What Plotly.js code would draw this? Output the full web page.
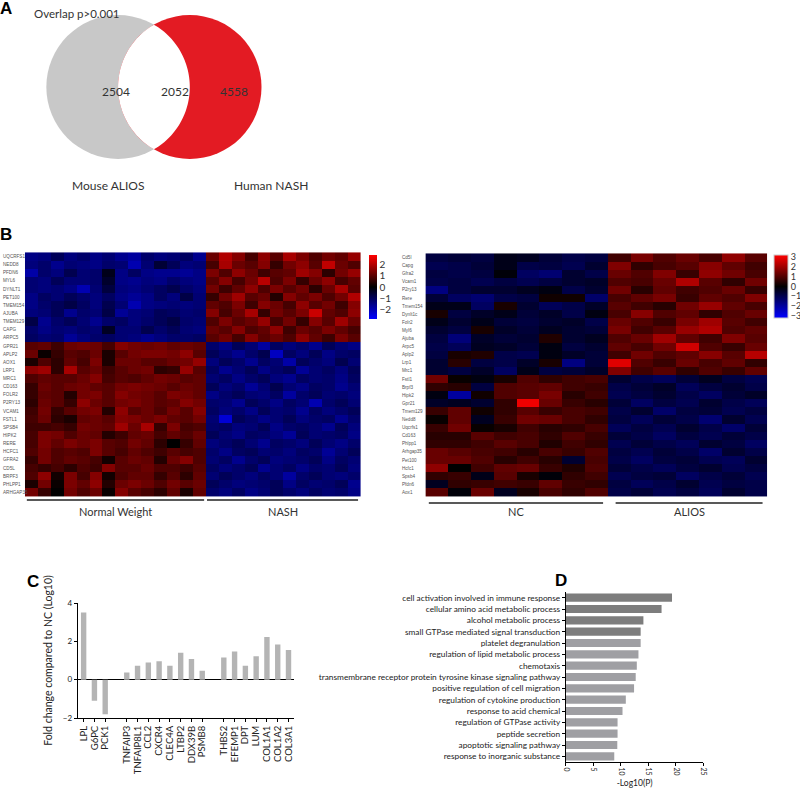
<!DOCTYPE html>
<html><head><meta charset="utf-8">
<script src="https://cdn.plot.ly/plotly-3.0.1.min.js"></script>
<style>html,body{margin:0;padding:0;background:#fff}#chart{width:800px;height:788px}</style>
</head><body><div id="chart"></div>
<script>
// ---------------- DATA ----------------
// Panel A (Venn)
const vennSetNames = ['Mouse ALIOS', 'Human NASH'];
const vennOnlyCounts = [2504, 4558];
const vennOverlapCount = 2052;
const vennTitle = 'Overlap p>0.001';

// Panel B left heatmap (human)
const leftGenes = ['UQCRFS1','NEDD8','PFDN6','MYL6','DYNLT1','PET100','TMEM154','AJUBA','TMEM129','CAPG','ARPC5',
  'GPR21','APLP2','AOX1','LRP1','MRC1','CD163','FOLR2','P2RY13','VCAM1','FSTL1','SPSB4','HIPK2','RERE','HCFC1',
  'GFRA2','CD5L','BRPF3','PHLPP1','ARHGAP35'];
const leftGroups = ['Normal Weight', 'NASH'];
const leftGroupSizes = [14, 12];
const leftZ = [
 [-1.5,-1.4,-1.0,-1.4,-1.2,-1.5,-1.3,-1.6,-1.8,-1.2,-1.4,-1.3,-1.1,-1.6, 1.2,2.0,1.5,0.8,1.6,1.0,1.9,1.4,0.9,1.3,1.1,1.7],
 [-1.4,-1.2,-1.6,-1.3,-1.4,-1.5,-1.2,-1.3,-2.0,-1.3,-0.6,-1.0,-1.4,-1.3, 0.8,1.9,1.2,1.0,1.5,0.6,1.3,1.6,1.0,2.2,1.2,0.9],
 [-1.9,-1.2,-1.4,-0.9,-1.3,-1.2,-0.3,-1.5,-1.1,-1.5,-1.6,-1.6,-1.7,-1.5, 1.4,0.9,1.6,1.2,0.7,1.0,1.1,1.8,1.5,0.5,1.3,1.7],
 [-1.3,-1.4,-1.0,-1.3,-1.3,-1.2,-0.5,-1.5,-1.6,-1.4,-1.5,-1.2,-1.4,-1.5, 1.0,1.5,0.8,1.3,2.1,0.9,1.4,0.6,1.2,1.6,0.8,1.1],
 [-1.3,-1.4,-1.3,-1.5,-2.0,-1.3,-0.7,-1.4,-1.5,-1.3,-1.1,-0.9,-1.2,-1.4, 1.3,0.7,1.1,1.6,0.9,1.4,1.0,1.3,0.5,1.2,1.9,1.0],
 [-1.5,-1.1,-1.3,-1.0,-1.2,-1.4,-1.1,-1.5,-1.7,-1.5,-1.1,-1.4,-0.8,-1.3, 0.6,1.3,1.8,1.0,1.2,0.4,1.5,1.1,1.4,0.9,1.3,2.0],
 [-1.5,-1.2,-1.0,-0.8,-1.1,-1.4,-0.9,-1.3,-2.0,-1.5,-1.4,-1.3,-1.4,-1.3, 1.1,0.9,1.4,0.7,1.5,1.2,0.8,1.6,1.0,1.3,0.7,1.5],
 [-1.4,-1.3,-1.0,-1.6,-1.2,-1.3,-0.8,-1.7,-1.4,-1.3,-1.0,-1.1,-1.3,-1.2, 1.5,0.8,1.2,1.9,0.6,1.3,1.0,1.4,2.3,1.1,0.9,1.6],
 [-0.8,-1.6,-1.2,-1.0,-1.3,-1.6,-1.2,-1.1,-1.4,-1.2,-1.0,-0.8,-1.2,-1.3, 0.9,1.4,1.0,1.2,1.7,0.8,1.3,0.6,1.5,1.0,1.8,1.2],
 [-1.2,-1.5,-1.3,-1.4,-1.2,-1.3,-0.4,-1.3,-1.3,-0.9,-1.2,-1.0,-1.3,-1.4, 1.2,1.0,1.5,0.9,1.1,1.6,0.7,1.2,1.0,1.4,1.1,0.8],
 [-1.1,-1.3,-1.2,-1.7,-1.4,-1.2,-1.1,-1.3,-1.4,-1.6,-1.4,-1.2,-1.2,-1.1, 1.0,1.3,0.8,1.5,1.0,1.2,0.9,1.6,1.1,0.7,1.4,1.0],
 [1.0,1.1,0.7,1.2,1.3,1.2,0.8,1.5,1.3,1.2,1.3,1.1,1.2,1.1, -1.2,-1.5,-1.0,-1.3,-1.8,-1.1,-1.4,-1.2,-1.6,-1.0,-1.3,-1.5],
 [1.2,0.1,0.6,1.0,0.9,1.2,0.3,1.0,1.3,1.4,1.4,1.3,1.6,1.0, -1.0,-1.3,-1.6,-1.2,-0.9,-2.2,-1.1,-1.4,-1.0,-1.5,-1.2,-1.1],
 [0.3,0.9,0.5,1.1,0.8,1.4,0.3,1.2,1.2,1.0,1.0,1.2,1.3,1.7, -1.4,-1.0,-1.2,-1.6,-1.1,-1.3,-1.9,-1.0,-1.2,-1.4,-0.9,-1.3],
 [1.6,1.8,0.5,1.9,1.0,1.2,0.7,1.0,1.2,1.3,0.5,0.6,1.7,1.0, -1.1,-1.6,-1.3,-1.0,-1.5,-1.2,-1.0,-1.7,-1.3,-1.1,-1.4,-1.0],
 [0.9,1.1,1.0,1.0,1.2,1.5,0.8,1.0,0.9,1.1,1.3,1.2,1.0,1.1, -1.3,-1.1,-1.5,-1.2,-1.0,-1.4,-1.6,-1.1,-1.3,-1.2,-1.5,-1.1],
 [0.6,1.2,1.0,1.2,1.3,1.1,1.0,1.3,1.4,1.3,1.2,1.0,1.2,1.1, -1.0,-1.4,-1.2,-1.7,-1.3,-0.9,-1.3,-1.5,-1.1,-1.2,-1.6,-1.3],
 [0.6,1.1,1.0,0.4,1.3,1.4,1.0,1.5,1.3,1.2,1.0,1.4,1.3,1.1, -1.5,-1.2,-1.0,-1.3,-1.4,-1.1,-1.8,-1.2,-1.0,-1.3,-1.2,-1.4],
 [0.5,1.2,1.0,0.6,1.6,1.2,1.0,1.3,1.4,1.2,1.0,1.1,1.5,1.3, -1.2,-1.3,-1.6,-1.0,-1.2,-1.5,-1.1,-1.3,-2.0,-1.2,-1.0,-1.3],
 [0.7,1.3,0.6,1.0,1.3,1.4,0.4,1.6,1.0,1.2,0.9,1.3,1.0,1.5, -1.1,-1.4,-1.2,-1.5,-1.0,-1.3,-1.2,-1.6,-1.1,-1.4,-1.2,-1.0],
 [0.8,1.2,0.5,0.3,1.1,1.2,1.0,1.5,1.4,1.2,1.4,1.1,1.0,1.3, -1.3,-2.4,-1.0,-1.2,-1.5,-1.3,-1.0,-1.4,-1.2,-1.1,-1.6,-1.2],
 [0.7,0.7,0.8,0.6,1.3,1.2,1.1,1.8,1.2,1.9,0.6,1.4,0.8,0.9, -1.2,-1.1,-1.4,-1.3,-1.0,-1.5,-1.2,-1.1,-1.3,-1.6,-1.0,-1.4],
 [0.8,1.4,1.3,0.9,1.2,1.1,0.4,0.7,1.1,1.2,0.8,1.1,0.9,1.2, -1.0,-1.3,-1.5,-1.1,-1.2,-1.4,-1.7,-1.0,-1.3,-1.2,-1.1,-1.5],
 [0.8,1.4,1.1,1.4,1.2,1.4,1.0,0.9,1.3,1.1,0.5,0.0,0.6,1.1, -1.4,-1.2,-1.0,-1.3,-1.6,-1.1,-1.2,-1.4,-1.0,-1.3,-1.5,-1.2],
 [0.9,1.3,0.9,1.0,0.9,1.4,1.0,0.8,1.1,0.9,0.7,1.0,0.8,0.9, -1.2,-1.5,-1.1,-1.0,-1.3,-1.2,-1.4,-1.1,-1.2,-1.7,-1.3,-1.0],
 [0.6,1.3,0.9,1.1,1.0,0.8,0.2,1.0,1.2,1.1,0.4,1.2,1.5,0.9, -1.3,-1.1,-1.6,-1.2,-1.0,-1.4,-1.3,-1.2,-1.0,-1.5,-1.1,-1.3],
 [0.8,0.6,0.8,0.5,0.9,0.7,1.5,1.0,1.0,1.2,0.9,0.9,0.7,1.0, -1.1,-1.4,-1.2,-1.0,-1.6,-1.3,-1.1,-1.5,-1.2,-1.3,-1.0,-1.4],
 [0.9,1.6,0.2,1.4,0.8,1.5,0.2,0.9,1.1,1.1,0.6,1.0,0.5,1.1, -1.3,-1.0,-1.2,-1.4,-1.1,-1.3,-1.8,-1.2,-1.0,-1.3,-1.4,-1.2],
 [0.3,1.3,0.1,1.4,1.1,1.6,0.4,1.2,1.4,1.2,0.9,1.3,1.0,1.2, -1.0,-1.2,-1.4,-1.3,-1.2,-1.0,-1.5,-1.1,-1.3,-1.2,-1.0,-1.6],
 [1.3,0.6,0.0,1.3,0.9,1.2,0.1,1.5,1.0,0.8,0.5,1.1,0.3,1.1, -1.2,-1.4,-1.1,-1.5,-1.3,-1.0,-1.2,-1.4,-1.1,-1.3,-1.2,-1.5]
];

// Panel B right heatmap (mouse)
const rightGenes = ['Cd5l','Capg','Gfra2','Vcam1','P2ry13','Rere','Tmem154','Dynlt1c','Folr2','Myl6','Ajuba','Arpc5','Aplp2','Lrp1','Mrc1',
  'Fstl1','Brpf3','Hipk2','Gpr21','Tmem129','Nedd8','Uqcrfs1','Cd163','Phlpp1','Arhgap35','Pet100','Hcfc1','Spsb4','Pfdn6','Aox1'];
const rightGroups = ['NC', 'ALIOS'];
const rightGroupSizes = [8, 7];
const rightZ = [
 [-0.8,-0.7,-0.8,-0.3,-0.4,-0.7,-0.9,-0.8, 0.8,1.5,1.0,1.3,0.9,1.8,1.1],
 [-1.0,-0.9,-0.7,-0.3,-0.9,-0.8,-1.0,-0.6, 1.6,0.6,0.9,1.1,1.7,1.2,0.8],
 [-0.8,-0.9,-0.8,-0.1,-1.2,-1.4,-0.6,-0.9, 1.3,1.0,1.6,0.7,1.8,1.4,0.9],
 [-0.9,-0.8,-1.0,-0.8,-1.0,-0.8,-0.6,-0.5, 1.0,0.9,1.3,2.2,1.1,0.6,1.4],
 [-1.6,-0.8,-0.6,-0.6,-0.4,-0.2,-0.9,-0.6, 1.4,0.5,1.2,0.8,1.0,1.3,0.7],
 [-0.7,-1.2,-1.4,-0.9,-0.8,0.2,0.2,-1.3, 0.9,1.2,1.5,0.7,1.2,1.0,1.6],
 [-0.3,-0.3,-1.2,0.3,-0.6,-1.1,-0.9,-0.5, 1.1,0.8,0.5,1.4,1.9,1.2,0.9],
 [0.3,-0.8,-0.5,-0.3,-0.7,-0.5,-0.9,-0.2, 0.9,1.7,1.0,1.2,0.6,1.0,1.3],
 [-0.3,-0.6,-0.3,-0.7,-0.8,-0.6,-0.5,-0.9, 1.3,1.0,0.7,1.5,2.0,1.1,0.8],
 [-0.6,-0.8,0.3,-0.5,-0.7,-0.4,-0.6,-0.7, 1.5,0.8,1.1,1.9,2.2,1.0,1.2],
 [-0.8,-1.5,-0.5,-0.7,-0.6,0.4,-0.6,-0.4, 1.0,1.3,2.0,1.2,0.8,1.6,1.1],
 [-0.9,-1.1,-0.4,-0.5,-0.7,-0.2,-0.8,-0.6, 1.2,0.9,1.4,2.6,1.0,0.7,1.3],
 [-0.8,0.3,0.4,-0.9,-1.0,-0.2,-0.5,-0.7, 0.8,1.4,1.0,1.2,1.7,1.1,2.3],
 [-0.6,0.5,-0.8,-0.9,-0.5,0.3,-1.6,-0.7, 2.8,1.0,0.7,1.3,0.9,1.2,0.6],
 [-0.6,-0.8,-0.5,-1.2,-0.3,-0.8,-0.7,-0.5, 1.6,0.8,1.1,0.6,1.0,0.7,1.2],
 [1.4,0.1,-0.2,0.3,1.0,0.6,0.8,0.9, -0.6,-0.9,-1.1,-0.7,-0.4,-0.8,-1.0],
 [0.6,0.5,-0.8,1.0,1.1,1.2,0.8,0.7, -0.9,-0.7,-0.5,-1.1,-0.8,-0.6,-0.9],
 [-0.2,-2.0,0.2,1.0,1.1,1.5,0.5,0.8, -1.0,-0.8,-0.6,-0.9,-1.2,-0.7,-0.5],
 [-0.5,-0.4,-0.6,0.6,3.0,1.3,0.7,0.5, -0.7,-1.2,-0.8,-1.0,-0.6,-0.9,-1.1],
 [0.7,1.2,0.2,0.6,1.1,0.7,0.9,0.8, -0.9,-0.6,-1.3,-0.8,-0.7,-1.0,-0.8],
 [0.1,1.2,-0.4,0.7,1.4,1.3,0.9,0.6, -0.8,-1.1,-0.7,-0.9,-1.4,-0.6,-1.0],
 [0.7,1.4,0.1,0.3,0.8,0.5,0.6,0.9, -1.1,-0.8,-1.0,-0.6,-0.9,-1.3,-0.7],
 [0.5,0.5,1.1,0.8,0.9,0.6,1.0,0.7, -0.7,-0.9,-1.2,-0.8,-1.0,-0.7,-0.9],
 [0.6,0.6,0.8,1.1,0.9,0.4,0.8,0.6, -1.0,-0.7,-0.9,-1.1,-0.6,-0.8,-1.2],
 [1.3,1.1,0.9,0.8,0.5,0.9,0.7,1.0, -0.8,-1.0,-0.7,-0.9,-1.3,-0.6,-0.9],
 [1.3,1.3,1.0,0.5,0.8,0.5,-0.6,0.9, -0.9,-1.2,-0.8,-0.7,-1.0,-1.1,-0.6],
 [1.8,0.0,0.8,1.2,1.3,0.7,0.4,1.0, -0.7,-0.9,-1.1,-0.8,-0.6,-1.0,-0.8],
 [0.6,0.7,-0.3,1.1,0.3,-0.1,0.6,0.8, -1.0,-0.8,-0.7,-1.2,-0.9,-0.7,-1.0],
 [-0.4,0.6,0.7,0.8,0.7,1.2,0.7,0.6, -0.8,-1.1,-0.9,-0.6,-1.0,-0.8,-0.9],
 [1.1,-0.1,1.3,-0.4,0.3,0.9,0.6,1.0, -0.9,-0.7,-1.0,-0.8,-1.1,-0.6,-0.9]
];

// Panel C (fold change, log10) in three gene groups
const cGroupGenes = [
  ['LPL','G6PC','PCK1'],
  ['TNFAIP3','TNFAIP8L1','CCL2','CXCR4','CLEC4A','LTBP2','DDX39B','PSMB8'],
  ['THBS2','EFEMP1','DPT','LUM','COL1A1','COL1A2','COL3A1']
];
const cGroupValues = [
  [3.5, -1.1, -1.8],
  [0.38, 0.72, 0.9, 0.96, 0.73, 1.4, 1.08, 0.47],
  [1.15, 1.47, 0.73, 1.22, 2.23, 1.83, 1.55]
];
const cYTitle = 'Fold change compared to NC (Log10)';

// Panel D (GO terms, -log10 P)
const dTerms = ['cell activation involved in immune response','cellular amino acid metabolic process','alcohol metabolic process',
  'small GTPase mediated signal transduction','platelet degranulation','regulation of lipid metabolic process','chemotaxis',
  'transmembrane receptor protein tyrosine kinase signaling pathway','positive regulation of cell migration',
  'regulation of cytokine production','response to acid chemical','regulation of GTPase activity','peptide secretion',
  'apoptotic signaling pathway','response to inorganic substance'];
const dValues = [19.3, 17.4, 14.1, 13.6, 13.6, 13.2, 12.9, 12.7, 12.4, 10.9, 10.3, 9.4, 9.4, 9.35, 8.8];
const dHighlighted = 4;
const dXTitle = '-Log10(P)';

// ---------------- LAYOUT HELPERS ----------------
const W = 800, H = 788;
const px = x => x / W;
const py = y => 1 - y / H;
const FONT = 'Lato, "Liberation Sans", sans-serif';
const TXT = '#333333';

const traces = [];
const shapes = [];
const annotations = [];

// ---- Panel A: Venn ----
const vc = {cy: 87, r: 72, lx: 118.5, rx: 190.5};
shapes.push({type:'circle', xref:'paper', yref:'paper', x0:px(vc.lx-vc.r), x1:px(vc.lx+vc.r), y0:py(vc.cy+vc.r), y1:py(vc.cy-vc.r), fillcolor:'#c8c8c8', line:{width:0}});
shapes.push({type:'circle', xref:'paper', yref:'paper', x0:px(vc.rx-vc.r), x1:px(vc.rx+vc.r), y0:py(vc.cy+vc.r), y1:py(vc.cy-vc.r), fillcolor:'#e31b23', line:{width:0}});
(function(){
  const d = vc.rx - vc.lx, a = Math.acos((d/2)/vc.r);
  const pts = [];
  const N = 60;
  for (let i=0;i<=N;i++){ const t = -a + 2*a*i/N; pts.push([vc.lx + vc.r*Math.cos(t), vc.cy + vc.r*Math.sin(t)]); }
  for (let i=0;i<=N;i++){ const t = Math.PI - a + 2*a*i/N; pts.push([vc.rx + vc.r*Math.cos(t), vc.cy + vc.r*Math.sin(t)]); }
  const path = 'M ' + pts.map(p => px(p[0]).toFixed(5)+','+py(p[1]).toFixed(5)).join(' L ') + ' Z';
  shapes.push({type:'path', xref:'paper', yref:'paper', path, fillcolor:'#ffffff', line:{width:0}});
})();
const vennFont = {family: FONT, size: 12, color: TXT};
annotations.push({xref:'paper', yref:'paper', x:px(100.5), y:py(82), text:String(vennOnlyCounts[0]), showarrow:false, font:vennFont});
annotations.push({xref:'paper', yref:'paper', x:px(160), y:py(82), text:String(vennOverlapCount), showarrow:false, font:vennFont});
annotations.push({xref:'paper', yref:'paper', x:px(219), y:py(82), text:String(vennOnlyCounts[1]), showarrow:false, font:vennFont});
annotations.push({xref:'paper', yref:'paper', x:px(70), y:py(176), text:vennSetNames[0], showarrow:false, font:vennFont});
annotations.push({xref:'paper', yref:'paper', x:px(233), y:py(176), text:vennSetNames[1], showarrow:false, font:vennFont});
annotations.push({xref:'paper', yref:'paper', x:px(32), y:py(5), xanchor:'left', text:vennTitle, showarrow:false, font:{family:FONT, size:11.5, color:TXT}});

// Panel letters (anchored top-left)
const letterFont = {family:'"Liberation Sans", Arial, sans-serif', size:17, color:'#000'};
[['A',-2,-3],['B',-2,223],['C',25,570],['D',555,569]].forEach(([t,x,y]) =>
  annotations.push({xref:'paper', yref:'paper', x:px(x), y:py(y), xanchor:'left', yanchor:'top', text:'<b>'+t+'</b>', showarrow:false, font:letterFont}));

// ---- Panel B heatmaps ----
const bwr = [[0,'#0000ff'],[0.5,'#000000'],[1,'#ff0000']];
const leftCols = leftZ[0].map((_,i)=>i);
const rightCols = rightZ[0].map((_,i)=>i);
traces.push({type:'heatmap', z:leftZ, x:leftCols, y:leftGenes, xaxis:'x2', yaxis:'y2', colorscale:bwr, zmin:-2.9, zmax:2.9,
  hoverinfo:'skip',
  colorbar:{x:px(370), xanchor:'left', y:py(255), yanchor:'top', len:64, lenmode:'pixels', thickness:8, thicknessmode:'pixels',
    outlinewidth:0, tickvals:[-2,-1,0,1,2], ticks:'', tickfont:{family:FONT, size:10, color:TXT}, xpad:0, ypad:0}});
traces.push({type:'heatmap', z:rightZ, x:rightCols, y:rightGenes, xaxis:'x3', yaxis:'y3', colorscale:bwr, zmin:-3.2, zmax:3.2,
  hoverinfo:'skip',
  colorbar:{x:px(777), xanchor:'left', y:py(255), yanchor:'top', len:63, lenmode:'pixels', thickness:14, thicknessmode:'pixels',
    outlinewidth:1, outlinecolor:'#cccccc', tickvals:[-3,-2,-1,0,1,2,3], ticks:'', tickfont:{family:FONT, size:9, color:TXT}, xpad:0, ypad:0}});

const rowFont = {family:'"Liberation Sans", sans-serif', size:4.6, color:'#555'};
leftGenes.forEach(g => annotations.push({xref:'paper', yref:'y2', x:px(1), y:g, xanchor:'left', text:g, showarrow:false, font:rowFont}));
rightGenes.forEach(g => annotations.push({xref:'paper', yref:'y3', x:px(402), y:g, xanchor:'left', text:g, showarrow:false, font:rowFont}));

function groupMarks(groups, sizes, xref, lineY, gapStart, gapEnd){
  let off = 0;
  groups.forEach((g,i) => {
    const x0 = off - 0.5 + (i===0 ? 0.15 : gapStart), x1 = off + sizes[i] - 0.5 - (i===groups.length-1 ? 0.2 : gapEnd);
    shapes.push({type:'line', xref, yref:'paper', x0, x1, y0:py(lineY), y1:py(lineY), line:{color:'#222', width:1.5}});
    annotations.push({xref, yref:'paper', x:(x0+x1)/2, y:py(512), text:g, showarrow:false, font:{family:FONT, size:11, color:TXT}});
    off += sizes[i];
  });
}
groupMarks(leftGroups, leftGroupSizes, 'x2', 500, 0.1, 0.12);
groupMarks(rightGroups, rightGroupSizes, 'x3', 503, 0.35, 0.2);

// ---- Panel C bars ----
const cX = [], cY = [], cNames = [];
{
  let pos = 0;
  cGroupGenes.forEach((genes, gi) => {
    genes.forEach((g, i) => { cX.push(pos); cY.push(cGroupValues[gi][i]); cNames.push(g); pos++; });
    pos++; // gap between groups
  });
}
traces.push({type:'bar', x:cX, y:cY, xaxis:'x4', yaxis:'y4', width:0.5, marker:{color:'#b4b4b4'}, hoverinfo:'skip'});

// ---- Panel D bars ----
traces.push({type:'bar', orientation:'h', x:dValues, y:dTerms, xaxis:'x5', yaxis:'y5', width:0.72,
  marker:{color:dValues.map((_,i)=> i < dHighlighted ? '#7d7d7d' : '#9f9fa3')}, hoverinfo:'skip'});

const hidden = {visible:false, showgrid:false, zeroline:false, fixedrange:true};
const layout = {
  width: W, height: H, margin:{l:0,r:0,t:0,b:0}, paper_bgcolor:'#fff', plot_bgcolor:'rgba(0,0,0,0)',
  showlegend:false, hovermode:false, font:{family:FONT, color:TXT},
  xaxis2: Object.assign({}, hidden, {domain:[px(25), px(362)], anchor:'y2', range:[-0.5, leftCols.length-0.5]}),
  yaxis2: Object.assign({}, hidden, {domain:[py(497), py(252)], anchor:'x2', type:'category', autorange:'reversed'}),
  xaxis3: Object.assign({}, hidden, {domain:[px(427), px(770)], anchor:'y3', range:[-0.5, rightCols.length-0.5]}),
  yaxis3: Object.assign({}, hidden, {domain:[py(497), py(253)], anchor:'x3', type:'category', autorange:'reversed'}),
  xaxis4: {domain:[px(78), px(295)], anchor:'y4', range:[-0.55, 19.5], showgrid:false, zeroline:false,
    showline:true, linecolor:'#000', linewidth:1, ticks:'outside', ticklen:3, tickcolor:'#000',
    tickvals:cX, ticktext:cNames, tickangle:-90, tickfont:{family:FONT, size:9.5, color:'#222'}},
  yaxis4: {domain:[py(718), py(603)], anchor:'x4', range:[-2,4], showgrid:false, zeroline:true, zerolinecolor:'#000', zerolinewidth:1.3,
    showline:true, linecolor:'#000', linewidth:1, ticks:'outside', ticklen:3, tickcolor:'#000', tickvals:[-2,0,2,4],
    tickfont:{family:FONT, size:8, color:'#222'},
    title:{text:cYTitle, font:{family:FONT, size:10.5, color:'#222'}, standoff:8}},
  xaxis5: {domain:[px(568), px(706)], anchor:'y5', range:[0,25], showgrid:false, zeroline:false,
    showline:true, linecolor:'#000', linewidth:1, ticks:'outside', ticklen:3, tickcolor:'#000',
    tickvals:[0,5,10,15,20,25], tickangle:90, tickfont:{family:FONT, size:7, color:'#222'},
    title:{text:dXTitle, font:{family:FONT, size:8.5, color:'#222'}, standoff:7}},
  yaxis5: {domain:[py(762), py(592)], anchor:'x5', type:'category', autorange:'reversed', showgrid:false, zeroline:false,
    showline:true, linecolor:'#000', linewidth:1, ticks:'outside', ticklen:3, tickcolor:'#000',
    tickfont:{family:FONT, size:8.3, color:'#222'}},
  shapes, annotations
};
Plotly.newPlot('chart', traces, layout, {staticPlot:true, displayModeBar:false});
</script></body></html>
